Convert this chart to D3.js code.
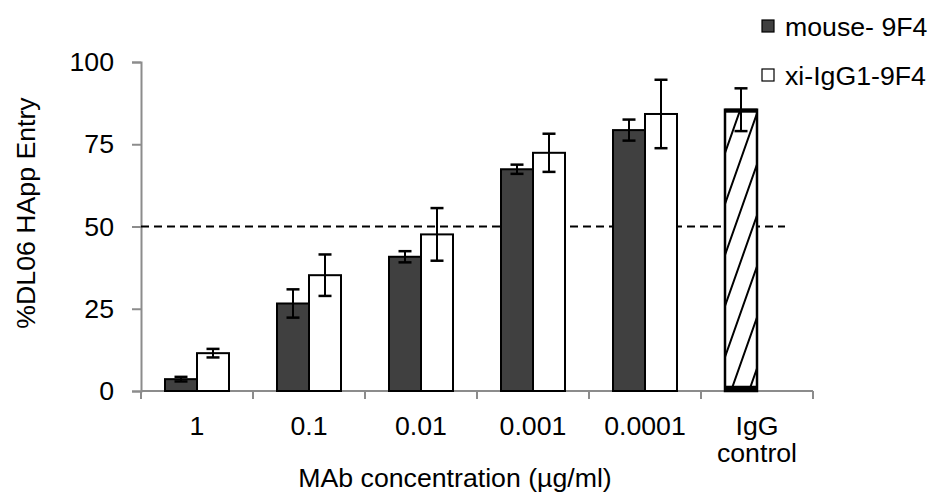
<!DOCTYPE html>
<html lang="en">
<head>
    <meta charset="UTF-8">
    <title>DL06 HApp Entry</title>
    <style>
        body {
            margin: 0;
            padding: 0;
            background-color: #fff;
        }

        svg text {
            font-family: 'Liberation Sans', Arial, sans-serif;
            font-size: 26.7px;
            fill: #000;
        }
    </style>
</head>
<body>
<div id="chart"></div>

<script src="https://d3js.org/d3.v7.min.js"></script>
<script>
    const categories = ["1", "0.1", "0.01", "0.001", "0.0001", "IgG control"];
    const seriesNames = ["mouse- 9F4", "xi-IgG1-9F4"];
    const mouseValues = [3.6, 26.6, 40.8, 67.4, 79.3];
    const mouseErrors = [0.7, 4.3, 1.7, 1.4, 3.2];
    const xiValues = [11.5, 35.2, 47.6, 72.4, 84.2];
    const xiErrors = [1.3, 6.3, 8.0, 5.8, 10.4];
    const controlValue = 85.5;
    const controlError = 6.5;
    const controlBase = 1.6;
    const yTicks = [0, 25, 50, 75, 100];
    const cutoff = 50;

    const width = 942;
    const height = 499;

    const svg = d3.select("#chart")
        .append("svg")
        .attr("width", width)
        .attr("height", height);

    const x = d3.scaleBand()
        .domain(categories)
        .range([141, 813])
        .paddingInner(0)
        .paddingOuter(0);

    const xSub = d3.scaleBand()
        .domain(seriesNames)
        .range([24, x.bandwidth() - 24]);

    const y = d3.scaleLinear()
        .domain([0, 100])
        .range([391, 62]);

    const axisColor = "#8c8c8c";

    // hatch for the control bar
    const defs = svg.append("defs");
    const hatch = defs.append("pattern")
        .attr("id", "hatch")
        .attr("patternUnits", "userSpaceOnUse")
        .attr("width", 18)
        .attr("height", 51)
        .attr("x", 725)
        .attr("y", 0);
    hatch.append("rect").attr("width", 18).attr("height", 51).attr("fill", "#fff");
    hatch.append("path")
        .attr("d", "M-1,53.8 L19,-2.8 M17,53.8 L37,-2.8 M-19,53.8 L1,-2.8")
        .attr("stroke", "#000")
        .attr("stroke-width", 2);

    // y axis
    const yAxis = svg.append("g")
        .attr("transform", "translate(141,0)")
        .call(d3.axisLeft(y).tickValues(yTicks).tickSize(9).tickPadding(18));
    yAxis.select(".domain").attr("stroke", axisColor).attr("stroke-width", 2);
    yAxis.selectAll(".tick line").attr("stroke", axisColor).attr("stroke-width", 2);
    yAxis.selectAll(".tick text")
        .attr("font-size", "26.7px")
        .attr("font-family", "'Liberation Sans', Arial, sans-serif")
        .attr("fill", "#000");

    // x axis with ticks between categories
    const xAxisG = svg.append("g");
    xAxisG.append("line")
        .attr("x1", x.range()[0]).attr("x2", x.range()[1])
        .attr("y1", y(0)).attr("y2", y(0))
        .attr("stroke", axisColor).attr("stroke-width", 2);
    const bounds = categories.map(c => x(c)).concat([x.range()[1]]);
    xAxisG.selectAll(".xtick")
        .data(bounds)
        .enter().append("line")
        .attr("x1", d => d).attr("x2", d => d)
        .attr("y1", y(0)).attr("y2", y(0) + 8)
        .attr("stroke", axisColor).attr("stroke-width", 2);

    xAxisG.selectAll(".xlabel")
        .data(categories)
        .enter().append("text")
        .attr("text-anchor", "middle")
        .attr("x", d => x(d) + x.bandwidth() / 2)
        .attr("y", 435)
        .each(function (d) {
            const words = d.split(" ");
            const t = d3.select(this);
            words.forEach(function (w, i) {
                t.append("tspan")
                    .attr("x", x(d) + x.bandwidth() / 2)
                    .attr("dy", i === 0 ? 0 : 27)
                    .text(w);
            });
        });

    // dashed 50% line
    svg.append("line")
        .attr("x1", x.range()[0])
        .attr("x2", 785)
        .attr("y1", y(cutoff))
        .attr("y2", y(cutoff))
        .attr("stroke", "#000")
        .attr("stroke-width", 2)
        .attr("stroke-dasharray", "8,5");

    const testCats = categories.slice(0, 5);

    function drawSeries(values, errors, name, fill) {
        const g = svg.append("g");
        g.selectAll("rect")
            .data(values)
            .enter().append("rect")
            .attr("x", (d, i) => x(testCats[i]) + xSub(name))
            .attr("y", d => y(d))
            .attr("width", xSub.bandwidth())
            .attr("height", d => y(0) - y(d))
            .attr("fill", fill)
            .attr("stroke", "#000")
            .attr("stroke-width", 2);

        const eb = g.selectAll(".err")
            .data(values)
            .enter().append("g");
        eb.append("line")
            .attr("x1", (d, i) => x(testCats[i]) + xSub(name) + xSub.bandwidth() / 2)
            .attr("x2", (d, i) => x(testCats[i]) + xSub(name) + xSub.bandwidth() / 2)
            .attr("y1", (d, i) => y(d + errors[i]))
            .attr("y2", (d, i) => y(d - errors[i]))
            .attr("stroke", "#000").attr("stroke-width", 2);
        [1, -1].forEach(function (s) {
            eb.append("line")
                .attr("x1", (d, i) => x(testCats[i]) + xSub(name) + xSub.bandwidth() / 2 - 6.5)
                .attr("x2", (d, i) => x(testCats[i]) + xSub(name) + xSub.bandwidth() / 2 + 6.5)
                .attr("y1", (d, i) => y(d + s * errors[i]))
                .attr("y2", (d, i) => y(d + s * errors[i]))
                .attr("stroke", "#000").attr("stroke-width", 2.5);
        });
    }

    drawSeries(mouseValues, mouseErrors, seriesNames[0], "#404040");
    drawSeries(xiValues, xiErrors, seriesNames[1], "#fff");

    // IgG control bar
    const cx0 = x("IgG control") + xSub(seriesNames[0]);
    const cw = xSub.bandwidth();
    svg.append("rect")
        .attr("x", cx0)
        .attr("y", y(controlValue))
        .attr("width", cw)
        .attr("height", y(0) - y(controlValue))
        .attr("fill", "url(#hatch)")
        .attr("stroke", "#000")
        .attr("stroke-width", 2.5);
    svg.append("rect")
        .attr("x", cx0)
        .attr("y", y(controlBase))
        .attr("width", cw)
        .attr("height", y(0) - y(controlBase))
        .attr("fill", "#000");
    svg.append("line")
        .attr("x1", cx0).attr("x2", cx0 + cw)
        .attr("y1", y(controlValue) + 1).attr("y2", y(controlValue) + 1)
        .attr("stroke", "#000").attr("stroke-width", 4);
    const ccx = cx0 + cw / 2;
    svg.append("line")
        .attr("x1", ccx).attr("x2", ccx)
        .attr("y1", y(controlValue + controlError)).attr("y2", y(controlValue - controlError))
        .attr("stroke", "#000").attr("stroke-width", 2);
    [1, -1].forEach(function (s) {
        svg.append("line")
            .attr("x1", ccx - 6.5).attr("x2", ccx + 6.5)
            .attr("y1", y(controlValue + s * controlError))
            .attr("y2", y(controlValue + s * controlError))
            .attr("stroke", "#000").attr("stroke-width", 2.5);
    });

    // axis titles
    svg.append("text")
        .attr("text-anchor", "middle")
        .attr("transform", "translate(35,213) rotate(-90)")
        .text("%DL06 HApp Entry");

    svg.append("text")
        .attr("text-anchor", "middle")
        .attr("x", 455)
        .attr("y", 487)
        .text("MAb concentration (µg/ml)");

    // legend
    const legend = svg.append("g");
    const legendFills = ["#404040", "#fff"];
    seriesNames.forEach(function (name, i) {
        const ly = 26 + i * 49;
        legend.append("rect")
            .attr("x", 762)
            .attr("y", ly - 6)
            .attr("width", 12)
            .attr("height", 12)
            .attr("fill", legendFills[i])
            .attr("stroke", "#000")
            .attr("stroke-width", 1.2);
        legend.append("text")
            .attr("x", 785)
            .attr("y", ly + 9.5)
            .text(name);
    });
</script>
</body>
</html>
